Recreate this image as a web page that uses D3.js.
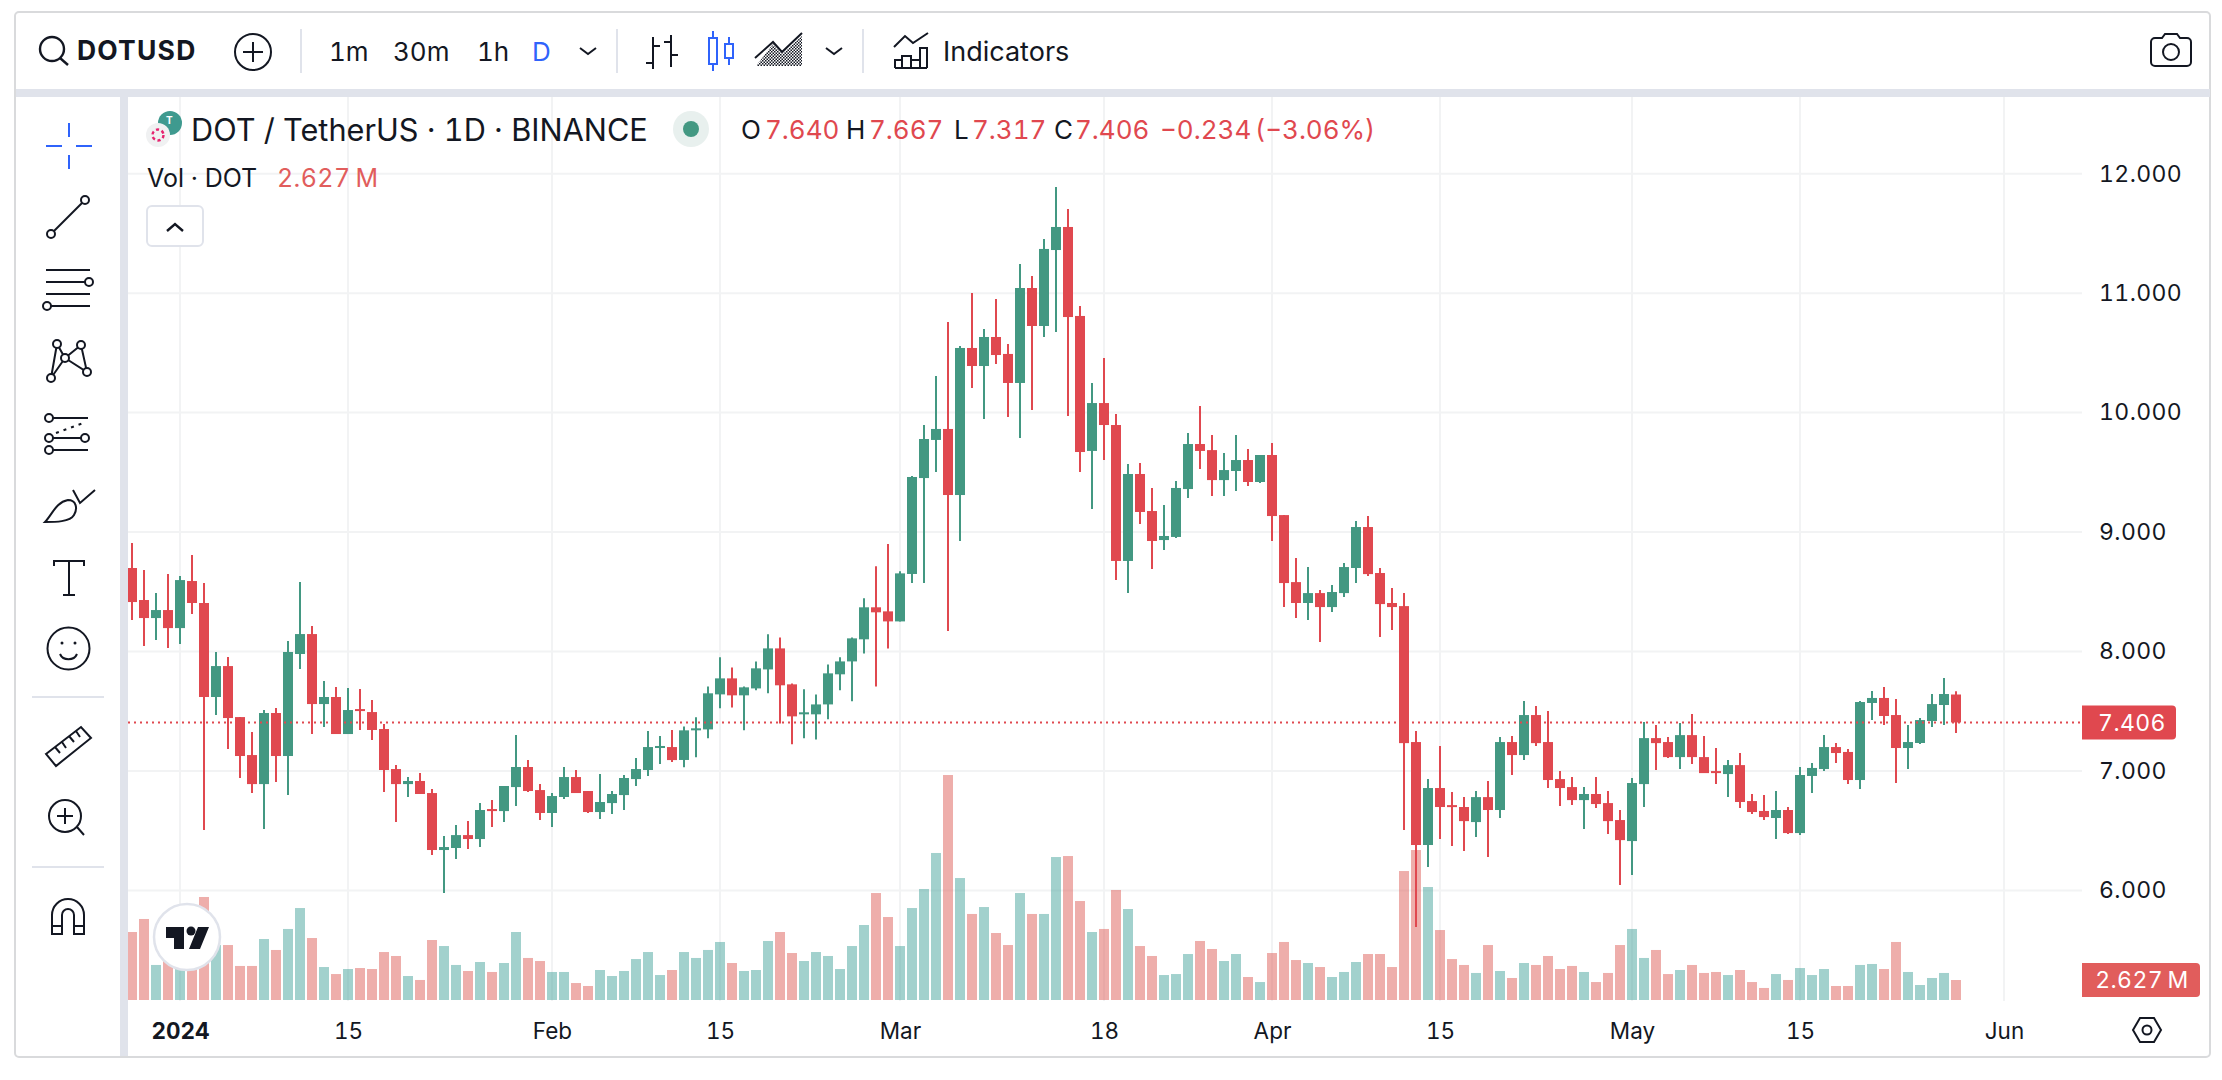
<!DOCTYPE html>
<html>
<head>
<meta charset="utf-8">
<title>DOTUSD</title>
<script src="https://cdnjs.cloudflare.com/ajax/libs/d3/7.8.5/d3.min.js"></script>
<style>
  html, body { margin: 0; padding: 0; background: #fff; }
  svg { display: block; }
  text { font-family: Inter, "Noto Sans", sans-serif; fill: #131722; font-feature-settings: "tnum"; }
</style>
</head>
<body>
<script>
/* global d3 */
var W = 2222, H = 1080;

// daily candles, one per day from 28 Dec 2023 to 28 May 2024
var firstDay = '2023-12-28';

var opens = [
  8.699, 8.431, 8.280, 8.347, 8.196, 8.590, 8.406, 7.619, 7.878, 7.451,
  7.133, 6.890, 7.485, 7.125, 7.979, 8.146, 7.560, 7.619, 7.309, 7.518,
  7.493, 7.351, 7.016, 6.890, 6.916, 6.815, 6.338, 6.355, 6.463, 6.430,
  6.681, 6.664, 6.865, 7.033, 6.840, 6.648, 6.782, 6.949, 6.832, 6.656,
  6.731, 6.798, 6.932, 7.008, 7.192, 7.200, 7.092, 7.340, 7.348, 7.641,
  7.775, 7.633, 7.691, 7.850, 8.026, 7.725, 7.474, 7.474, 7.557, 7.809,
  7.917, 8.102, 8.370, 8.336, 8.252, 8.649, 9.452, 9.771, 9.863, 9.310,
  10.541, 10.390, 10.633, 10.491, 10.248, 11.043, 10.725, 11.361, 11.554, 10.809,
  9.679, 10.080, 9.896, 8.758, 9.486, 9.176, 8.933, 8.959, 9.360, 9.737,
  9.686, 9.435, 9.511, 9.603, 9.419, 9.645, 9.142, 8.581, 8.406, 8.489,
  8.372, 8.489, 8.699, 9.042, 8.657, 8.406, 8.380, 7.242, 6.380, 6.857,
  6.714, 6.698, 6.572, 6.781, 6.673, 7.242, 7.133, 7.468, 7.242, 6.932,
  6.865, 6.756, 6.807, 6.731, 6.589, 6.413, 6.890, 7.275, 7.242, 7.116,
  7.300, 7.116, 6.999, 6.974, 7.049, 6.748, 6.665, 6.606, 6.673, 6.480,
  6.958, 7.016, 7.200, 7.159, 6.924, 7.569, 7.611, 7.468, 7.192, 7.234,
  7.418, 7.552, 7.640
];

var highs = [
  8.908, 8.682, 8.489, 8.649, 8.632, 8.808, 8.573, 7.996, 7.954, 7.451,
  7.326, 7.510, 7.527, 8.088, 8.582, 8.213, 7.753, 7.702, 7.694, 7.686,
  7.594, 7.393, 7.050, 6.949, 6.983, 6.849, 6.455, 6.547, 6.581, 6.731,
  6.756, 6.874, 7.301, 7.091, 6.890, 6.815, 7.033, 7.008, 6.832, 6.974,
  6.832, 6.966, 7.108, 7.334, 7.292, 7.343, 7.373, 7.449, 7.708, 7.951,
  7.867, 7.708, 7.917, 8.144, 8.118, 7.733, 7.683, 7.641, 7.892, 7.951,
  8.118, 8.445, 8.713, 8.900, 8.671, 9.469, 9.896, 10.306, 10.759, 10.558,
  11.001, 10.700, 10.951, 10.574, 11.244, 11.144, 11.453, 11.889, 11.705, 10.892,
  10.248, 10.457, 9.988, 9.570, 9.578, 9.369, 9.226, 9.427, 9.829, 10.055,
  9.812, 9.661, 9.812, 9.695, 9.645, 9.745, 9.142, 8.782, 8.707, 8.514,
  8.556, 8.740, 9.092, 9.134, 8.699, 8.531, 8.489, 7.334, 6.932, 7.208,
  6.823, 6.781, 6.832, 6.915, 7.284, 7.292, 7.585, 7.543, 7.501, 6.999,
  6.949, 6.865, 6.949, 6.832, 6.673, 6.940, 7.409, 7.384, 7.284, 7.401,
  7.476, 7.292, 7.192, 7.091, 7.150, 6.807, 6.798, 6.832, 6.698, 7.033,
  7.066, 7.301, 7.234, 7.184, 7.585, 7.669, 7.703, 7.602, 7.385, 7.443,
  7.644, 7.778, 7.667
];

var lows = [
  8.263, 8.046, 8.096, 8.029, 8.062, 8.314, 6.505, 7.468, 7.183, 6.941,
  6.815, 6.514, 6.907, 6.798, 7.853, 7.309, 7.368, 7.309, 7.309, 7.343,
  7.259, 6.823, 6.572, 6.782, 6.807, 6.296, 5.978, 6.263, 6.346, 6.363,
  6.530, 6.572, 6.706, 6.823, 6.589, 6.530, 6.765, 6.815, 6.648, 6.597,
  6.639, 6.673, 6.874, 6.957, 7.058, 7.075, 7.030, 7.114, 7.273, 7.524,
  7.532, 7.340, 7.675, 7.650, 7.398, 7.223, 7.273, 7.264, 7.432, 7.675,
  7.583, 7.984, 7.708, 8.026, 8.252, 8.573, 8.573, 9.503, 8.172, 8.925,
  10.206, 9.946, 10.407, 9.963, 9.787, 10.022, 10.633, 10.675, 9.972, 9.503,
  9.193, 9.603, 8.599, 8.490, 9.067, 8.691, 8.850, 8.950, 9.285, 9.528,
  9.301, 9.301, 9.343, 9.385, 9.410, 8.925, 8.372, 8.280, 8.263, 8.079,
  8.330, 8.456, 8.573, 8.632, 8.121, 8.180, 6.505, 5.693, 6.195, 6.430,
  6.371, 6.329, 6.447, 6.279, 6.606, 6.966, 7.091, 7.208, 6.857, 6.706,
  6.714, 6.513, 6.689, 6.472, 6.045, 6.128, 6.698, 7.007, 7.108, 7.016,
  7.058, 6.982, 6.890, 6.781, 6.689, 6.639, 6.589, 6.430, 6.472, 6.464,
  6.815, 6.999, 7.066, 6.891, 6.849, 7.426, 7.385, 6.899, 7.016, 7.225,
  7.368, 7.385, 7.317
];

var closes = [
  8.414, 8.280, 8.347, 8.196, 8.598, 8.406, 7.619, 7.878, 7.443, 7.125,
  6.890, 7.485, 7.125, 7.996, 8.146, 7.560, 7.619, 7.309, 7.510, 7.502,
  7.343, 7.008, 6.890, 6.916, 6.807, 6.338, 6.363, 6.463, 6.430, 6.673,
  6.664, 6.874, 7.033, 6.832, 6.648, 6.790, 6.949, 6.815, 6.656, 6.740,
  6.807, 6.941, 7.016, 7.200, 7.209, 7.091, 7.340, 7.357, 7.650, 7.775,
  7.633, 7.700, 7.859, 8.026, 7.717, 7.457, 7.491, 7.557, 7.817, 7.917,
  8.110, 8.370, 8.328, 8.252, 8.654, 9.461, 9.779, 9.863, 9.310, 10.541,
  10.390, 10.633, 10.482, 10.248, 11.043, 10.725, 11.370, 11.554, 10.800, 9.670,
  10.080, 9.896, 8.758, 9.486, 9.168, 8.925, 8.967, 9.369, 9.737, 9.679,
  9.435, 9.519, 9.603, 9.419, 9.645, 9.134, 8.573, 8.406, 8.489, 8.372,
  8.498, 8.707, 9.042, 8.648, 8.397, 8.372, 7.233, 6.380, 6.857, 6.698,
  6.698, 6.580, 6.781, 6.673, 7.242, 7.133, 7.468, 7.233, 6.924, 6.857,
  6.756, 6.807, 6.723, 6.580, 6.421, 6.899, 7.275, 7.233, 7.116, 7.300,
  7.116, 6.982, 6.982, 7.049, 6.740, 6.656, 6.614, 6.673, 6.480, 6.966,
  7.025, 7.200, 7.150, 6.924, 7.577, 7.611, 7.460, 7.192, 7.242, 7.426,
  7.560, 7.644, 7.406
];

// volume, millions of DOT (days 3-5 and 7 sit behind the logo, guessed)
var volumes = [
  8.93, 10.64, 4.60, 5.69, 6.13, 5.25, 13.53, 7.22, 7.22, 4.47,
  4.47, 8.01, 6.57, 9.33, 12.08, 8.14, 4.33, 3.41, 4.07, 4.20,
  4.07, 6.30, 5.78, 3.15, 2.63, 7.88, 7.09, 4.60, 3.81, 4.99,
  3.68, 4.86, 8.93, 5.52, 5.12, 3.68, 3.68, 2.23, 1.84, 3.94,
  3.15, 3.81, 5.38, 6.30, 3.28, 3.94, 6.30, 5.52, 6.57, 7.62,
  4.86, 3.81, 3.94, 7.75, 8.93, 6.17, 5.12, 6.30, 5.78, 4.07,
  7.09, 9.85, 14.05, 10.90, 7.09, 12.08, 14.58, 19.31, 29.55, 16.02,
  11.30, 12.21, 8.80, 7.22, 14.05, 11.30, 11.30, 18.78, 18.91, 13.00,
  8.93, 9.33, 14.45, 11.95, 7.09, 5.78, 3.28, 3.41, 6.04, 7.75,
  6.70, 5.12, 6.04, 3.02, 2.36, 6.17, 7.62, 5.25, 4.86, 4.33,
  3.02, 3.68, 4.99, 6.04, 6.04, 4.33, 16.94, 19.70, 14.84, 9.19,
  5.38, 4.60, 3.55, 7.22, 3.81, 2.89, 4.86, 4.60, 5.78, 4.07,
  4.47, 3.68, 2.36, 3.55, 7.22, 9.33, 5.52, 6.57, 3.41, 3.94,
  4.60, 3.55, 3.68, 3.28, 3.94, 2.36, 1.58, 3.41, 2.63, 4.20,
  3.28, 4.07, 1.84, 1.84, 4.60, 4.73, 4.07, 7.62, 3.68, 1.97,
  2.89, 3.55, 2.627
];

var priceTicks = [6, 7, 8, 9, 10, 11, 12];
var timeTickDates = ['2024-01-01', '2024-01-15', '2024-02-01', '2024-02-15', '2024-03-01', '2024-03-18',
  '2024-04-01', '2024-04-15', '2024-05-01', '2024-05-15', '2024-06-01'];
var timeTickLabels = ['2024', '15', 'Feb', '15', 'Mar', '18', 'Apr', '15', 'May', '15', 'Jun'];
var intervals = ['1m', '30m', '1h'];
var lastPrice = 7.406;

var UP = '#439882', DOWN = '#e0484f', INK = '#131722', LINE = '#e0e3eb', GRID = '#f2f3f4', BLUE = '#2f63fb';

var paneL = 128, paneR = 2082, paneT = 97, paneB = 1001;

var parse = d3.utcParse('%Y-%m-%d');
var days = opens.map(function(d, i) { return d3.utcDay.offset(parse(firstDay), i); });
var tickDays = timeTickDates.map(parse);

var x = d3.scaleUtc().domain([parse(firstDay), parse('2024-06-01')]).range([132, 2004]);
var y = d3.scaleLinear().domain([6, 12]).range([890.4, 173.7]);
var yVol = d3.scaleLinear().domain([0, 30]).range([1000, 771.6]);

var candles = days.map(function(d, i) {
  return {day: d, o: opens[i], h: highs[i], l: lows[i], c: closes[i], v: volumes[i]};
});

var svg = d3.select('body').append('svg').attr('width', W).attr('height', H);
var defs = svg.append('defs');

defs.append('clipPath').attr('id', 'pane').append('rect')
  .attr('x', paneL).attr('y', paneT).attr('width', paneR - paneL).attr('height', paneB - paneT);
defs.append('clipPath').attr('id', 'sym').append('rect')
  .attr('x', 70).attr('y', 20).attr('width', 125).attr('height', 60);
defs.append('clipPath').attr('id', 'tether').append('rect')
  .attr('x', 155).attr('y', 108).attr('width', 30).attr('height', 30);

var checker = defs.append('pattern').attr('id', 'checker').attr('width', 3).attr('height', 3)
  .attr('patternUnits', 'userSpaceOnUse');
checker.append('rect').attr('width', 1.5).attr('height', 1.5).attr('fill', INK);
checker.append('rect').attr('x', 1.5).attr('y', 1.5).attr('width', 1.5).attr('height', 1.5).attr('fill', INK);

// frame and panels
svg.append('rect').attr('x', 15).attr('y', 12).attr('width', 2195).attr('height', 1045)
  .attr('rx', 4).attr('fill', '#fff').attr('stroke', '#d9dadc').attr('stroke-width', 2);
svg.append('rect').attr('x', 16).attr('y', 89).attr('width', 2194).attr('height', 8).attr('fill', LINE);
svg.append('rect').attr('x', 120).attr('y', 97).attr('width', 8).attr('height', 959).attr('fill', LINE);

// gridlines
var chart = svg.append('g');
chart.append('g').selectAll('line').data(priceTicks).enter().append('line')
  .attr('x1', paneL).attr('x2', paneR)
  .attr('y1', function(d) { return y(d); }).attr('y2', function(d) { return y(d); })
  .attr('stroke', GRID).attr('stroke-width', 2);
chart.append('g').selectAll('line').data(tickDays).enter().append('line')
  .attr('y1', paneT).attr('y2', paneB)
  .attr('x1', function(d) { return x(d); }).attr('x2', function(d) { return x(d); })
  .attr('stroke', GRID).attr('stroke-width', 2);

var plot = chart.append('g').attr('clip-path', 'url(#pane)');

// volume under the candles
plot.append('g').selectAll('rect').data(candles).enter().append('rect')
  .attr('x', function(d) { return x(d.day) - 5; })
  .attr('width', 10)
  .attr('y', function(d) { return yVol(d.v); })
  .attr('height', function(d) { return yVol(0) - yVol(d.v); })
  .attr('fill', function(d) { return d.c < d.o ? 'rgb(221,93,87)' : 'rgb(69,163,155)'; })
  .attr('fill-opacity', 0.5);

var candle = plot.append('g').selectAll('g').data(candles).enter().append('g')
  .attr('fill', function(d) { return d.c < d.o ? DOWN : UP; })
  .attr('stroke', function(d) { return d.c < d.o ? DOWN : UP; });
candle.append('line')
  .attr('x1', function(d) { return x(d.day); }).attr('x2', function(d) { return x(d.day); })
  .attr('y1', function(d) { return y(d.h); }).attr('y2', function(d) { return y(d.l); })
  .attr('stroke-width', 2);
candle.append('rect')
  .attr('x', function(d) { return x(d.day) - 5; })
  .attr('width', 10)
  .attr('y', function(d) { return y(Math.max(d.o, d.c)); })
  .attr('height', function(d) { return Math.max(2, Math.abs(y(d.o) - y(d.c))); })
  .attr('stroke', 'none');

// last price line
chart.append('line')
  .attr('x1', paneL).attr('x2', paneR).attr('y1', y(lastPrice)).attr('y2', y(lastPrice))
  .attr('stroke', DOWN).attr('stroke-width', 2).attr('stroke-dasharray', '2 4');

// axes
var yAxis = d3.axisRight(y).tickValues(priceTicks).tickSize(0).tickPadding(17)
  .tickFormat(d3.format('.3f'));
var yG = svg.append('g').attr('transform', 'translate(' + paneR + ',0)').call(yAxis);
var xAxis = d3.axisBottom(x).tickValues(tickDays).tickSize(0).tickPadding(0)
  .tickFormat(function(d, i) { return timeTickLabels[i]; });
var xG = svg.append('g').attr('transform', 'translate(0,' + paneB + ')').call(xAxis);
yG.select('.domain').remove();
xG.select('.domain').remove();
yG.selectAll('text').attr('font-size', 23).attr('fill', INK).style('letter-spacing', '0.4px');
xG.selectAll('text').attr('font-size', 22.5).attr('fill', INK).attr('dy', 38);
xG.selectAll('text').filter(function(d, i) { return i === 0; }).attr('font-weight', 700);

// price and volume tags
tag(2082, y(lastPrice) - 17, 94, 34, DOWN, d3.format('.3f')(lastPrice), 2132);
tag(2082, 963, 118, 34, '#e15d5c', '2.627\u2009M', 2142);

function tag(tx, ty, tw, th, color, label, cx) {
  svg.append('path')
    .attr('d', 'M' + tx + ',' + ty + 'h' + (tw - 4) + 'a4,4 0 0 1 4,4v' + (th - 8) + 'a4,4 0 0 1 -4,4h' + (4 - tw) + 'z')
    .attr('fill', color);
  svg.append('text').text(label).attr('x', cx).attr('y', ty + th / 2).attr('dy', '0.35em')
    .attr('text-anchor', 'middle').attr('font-size', 23).style('fill', '#fff').style('letter-spacing', '0.4px');
}

// legend
addText('DOT / TetherUS \u00b7 1D \u00b7 BINANCE', 191, 130, 30.7, INK);
var ohlcLabels = [['O', 741], ['H', 846], ['L', 954], ['C', 1054]];
var ohlcValues = [['7.640', 765], ['7.667', 869], ['7.317', 972], ['7.406', 1075], ['\u22120.234', 1160], ['(\u22123.06%)', 1255]];
ohlcLabels.forEach(function(d) { addText(d[0], d[1], 130, 26, INK); });
ohlcValues.forEach(function(d) { addText(d[0], d[1], 130, 26, DOWN); });
addText('Vol \u00b7 DOT', 147, 178, 25, INK);
addText('2.627\u2009M', 277, 178, 25, '#e15d5c').style('letter-spacing', '0.4px');

function addText(s, tx, ty, size, color) {
  return svg.append('text').text(s).attr('x', tx).attr('y', ty).attr('dy', '0.35em')
    .attr('font-size', size).style('fill', color);
}

// symbol logos and market status dot
svg.append('circle').attr('cx', 170).attr('cy', 123).attr('r', 12).attr('fill', '#3f9a8f');
addText('T', 166, 120, 10, '#fff').attr('font-weight', 700);
svg.append('circle').attr('cx', 158).attr('cy', 135).attr('r', 12).attr('fill', '#f0f1f2');
svg.append('circle').attr('cx', 158).attr('cy', 135).attr('r', 5.5).attr('fill', 'none')
  .attr('stroke', '#e6246f').attr('stroke-width', 2.4).attr('stroke-dasharray', '3.2 2.6');
svg.append('circle').attr('cx', 691).attr('cy', 129).attr('r', 18).attr('fill', '#e8f0ee');
svg.append('circle').attr('cx', 691).attr('cy', 129).attr('r', 8).attr('fill', UP);

// collapse button
svg.append('rect').attr('x', 147).attr('y', 206).attr('width', 56).attr('height', 40).attr('rx', 5)
  .attr('fill', '#fff').attr('stroke', LINE).attr('stroke-width', 2);
icon('M167,231l8,-7l8,7', 2.4);

// tradingview badge
svg.append('circle').attr('cx', 187).attr('cy', 937).attr('r', 33).attr('fill', '#fff')
  .attr('stroke', LINE).attr('stroke-width', 2.5);
svg.append('path').attr('fill', INK)
  .attr('d', 'M166,927H184V949H174V938H166ZM198,927H209L200,949H189Z');
svg.append('circle').attr('cx', 191).attr('cy', 931).attr('r', 4.5).attr('fill', INK);

// top toolbar
svg.append('circle').attr('cx', 52).attr('cy', 49).attr('r', 12).attr('fill', 'none').attr('stroke', INK).attr('stroke-width', 2.4);
icon('M60,58l8,7', 2.4);
addText('DOTUSD', 77, 51, 26.5, INK).attr('font-weight', 700).attr('clip-path', 'url(#sym)').style('letter-spacing', '1.2px');
svg.append('circle').attr('cx', 253).attr('cy', 52).attr('r', 18).attr('fill', 'none').attr('stroke', INK).attr('stroke-width', 2);
icon('M253,42v20M243,52h20', 2);

[301, 617, 863].forEach(function(sx) {
  svg.append('line').attr('x1', sx).attr('x2', sx).attr('y1', 29).attr('y2', 73).attr('stroke', LINE).attr('stroke-width', 2);
});
[329, 393, 477].forEach(function(tx, i) { addText(intervals[i], tx, 52, 26, INK); });
addText('D', 532, 52, 26, BLUE);
icon('M580,48l8,6l8,-6', 2);
icon('M826,48l8,6l8,-6', 2);

// bar, candle and area style buttons
icon('M653,37v32M653,46h7M646,63h7M671,35v32M664,42h7M671,55h7', 2);
icon('M713,31v7M713,64v7M729,37v7M729,58v7', 2, BLUE);
svg.append('rect').attr('x', 709).attr('y', 38).attr('width', 8).attr('height', 26).attr('fill', 'none').attr('stroke', BLUE).attr('stroke-width', 2);
svg.append('rect').attr('x', 725).attr('y', 44).attr('width', 8).attr('height', 14).attr('fill', 'none').attr('stroke', BLUE).attr('stroke-width', 2);
svg.append('path').attr('d', 'M756,66L773,44L782,54L802,36V66z').attr('fill', 'url(#checker)');
icon('M755,58L773,42L782,52L802,33', 2);

icon('M894,47L905,36L913,43L928,33', 2);
icon('M895,68V60H902V68M902,68V56H911V68M911,68V60H920V68M920,68V48H927V68M895,68H927', 2);
addText('Indicators', 943, 52, 27, INK);

// camera
icon('M2155,38h7l3,-4h12l3,4h7a4,4 0 0 1 4,4v20a4,4 0 0 1 -4,4h-32a4,4 0 0 1 -4,-4v-20a4,4 0 0 1 4,-4z', 2);
svg.append('circle').attr('cx', 2171).attr('cy', 52).attr('r', 8).attr('fill', 'none').attr('stroke', INK).attr('stroke-width', 2);

// settings hexagon under the price scale
icon('M2133,1030l7,-12h14l7,12l-7,12h-14z', 2);
svg.append('circle').attr('cx', 2147).attr('cy', 1030).attr('r', 4.5).attr('fill', 'none').attr('stroke', INK).attr('stroke-width', 2);

// left toolbar
icon('M69,123v14M69,155v14M46,146h16M76,146h16', 2, BLUE);
icon('M54,231L82,203', 2);
dots([[51, 234], [85, 200]], 4);
icon('M46,270H90M46,282H85M46,294H90M51,306H90', 2);
dots([[89, 282], [47, 306]], 4);
icon('M51,378L57,344L65,358L81,345L87,372L65,358L51,378', 2);
dots([[57, 344], [81, 345], [65, 358], [87, 372], [51, 378]], 4);
icon('M53,418H88M53,438H81M53,450H88', 2);
svg.append('path').attr('d', 'M56,433L86,422').attr('fill', 'none').attr('stroke', INK).attr('stroke-width', 2).attr('stroke-dasharray', '3 5');
dots([[49, 418], [49, 438], [85, 438], [49, 450]], 4);
icon('M45,522C52,515 56,502 68,500C76,500 78,508 74,515C70,522 55,522 45,522ZM73,490L80,503L95,490', 2);
icon('M54,566V561H84V566M69,561V595M63,595H75', 2);
svg.append('circle').attr('cx', 68.5).attr('cy', 648.5).attr('r', 21).attr('fill', 'none').attr('stroke', INK).attr('stroke-width', 2);
dots2([[62, 643], [75, 643]]);
icon('M60,654C63,661 74,661 77,654', 2);
[697, 867].forEach(function(dy) {
  svg.append('line').attr('x1', 32).attr('x2', 104).attr('y1', dy).attr('y2', dy).attr('stroke', LINE).attr('stroke-width', 2);
});
icon('M46,754L81,727L91,738L56,766ZM55,747l5,6M62,742l4,6M69,736l5,6M76,731l4,6', 2);
svg.append('circle').attr('cx', 65).attr('cy', 816).attr('r', 16).attr('fill', 'none').attr('stroke', INK).attr('stroke-width', 2);
icon('M77,827L84,835M65,808v16M57,816h16', 2);
icon('M52,934V915A16,16 0 0 1 84,915V934H74V915A6,6 0 0 0 62,915V934ZM52,926H62M74,926H84', 2);

function icon(d, sw, color) {
  svg.append('path').attr('d', d).attr('fill', 'none')
    .attr('stroke', color || INK).attr('stroke-width', sw);
}
function dots(pts, r) {
  svg.append('g').selectAll('circle').data(pts).enter().append('circle')
    .attr('cx', function(d) { return d[0]; }).attr('cy', function(d) { return d[1]; })
    .attr('r', r).attr('fill', '#fff').attr('stroke', INK).attr('stroke-width', 2);
}
function dots2(pts) {
  svg.append('g').selectAll('circle').data(pts).enter().append('circle')
    .attr('cx', function(d) { return d[0]; }).attr('cy', function(d) { return d[1]; })
    .attr('r', 1.5).attr('fill', INK);
}
</script>
</body>
</html>
